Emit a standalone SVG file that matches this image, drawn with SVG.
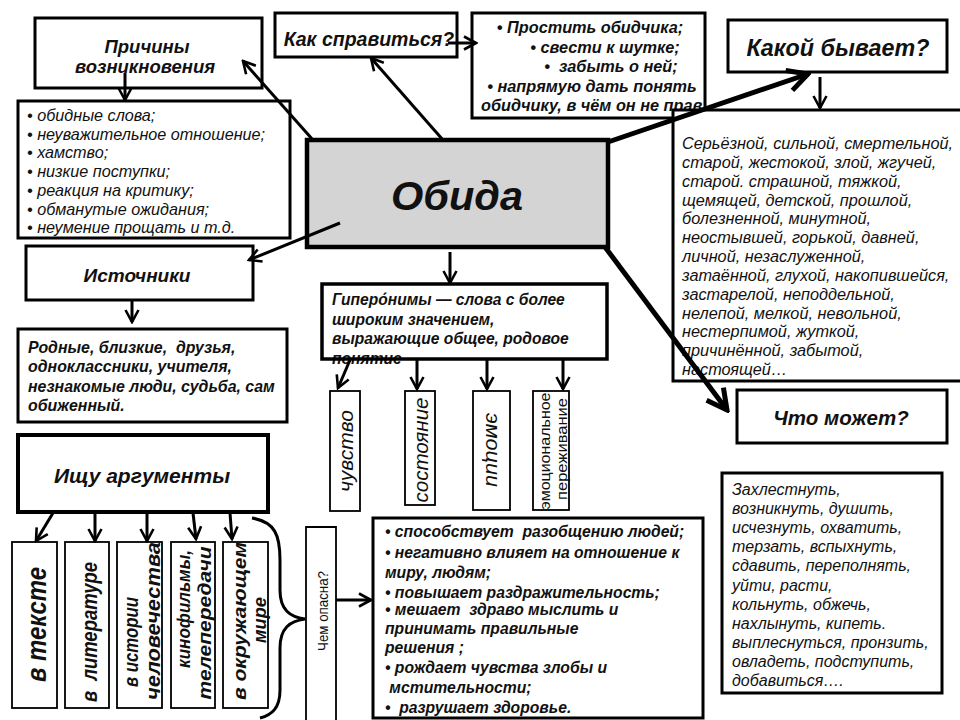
<svg xmlns="http://www.w3.org/2000/svg" width="960" height="720" viewBox="0 0 960 720">
<style>
.b{fill:#fff;stroke:#000;stroke-width:3}
.th{fill:#fff;stroke:#000;stroke-width:1.8}
.t{font-family:"Liberation Sans",Arial,sans-serif;fill:#111}
.bi{font-weight:bold;font-style:italic}
.i{font-style:italic}
.c{stroke:#000;stroke-width:3;fill:none}
.k{stroke:#000;stroke-width:5;fill:none}
</style>
<defs>
<marker id="v" viewBox="0 0 16 16" refX="14" refY="8" markerWidth="16" markerHeight="16" markerUnits="userSpaceOnUse" orient="auto"><path d="M2,1.5 L14,8 L2,14.5" fill="none" stroke="#000" stroke-width="2.6"/></marker>
<marker id="vk" viewBox="0 0 26 26" refX="23" refY="13" markerWidth="26" markerHeight="26" markerUnits="userSpaceOnUse" orient="auto"><path d="M3,2.5 L23,13 L3,23.5" fill="none" stroke="#000" stroke-width="5"/></marker>
<clipPath id="cp"><rect x="472" y="13" width="233" height="105"/></clipPath>
</defs>

<g id="prichiny">
<rect class="b" x="35" y="18" width="227" height="70"/>
<text class="t bi" font-size="18.5" text-anchor="middle"><tspan x="147" y="53">Причины</tspan><tspan x="145" y="73">возникновения</tspan></text>
</g>

<g id="prichiny-list">
<rect class="b" x="18" y="101" width="272" height="137"/>
<text class="t i" font-size="16.2"><tspan x="27" y="121">• обидные слова;</tspan><tspan x="27" y="139.7">• неуважительное отношение;</tspan><tspan x="27" y="158.4">• хамство;</tspan><tspan x="27" y="177.1">• низкие поступки;</tspan><tspan x="27" y="195.8">• реакция на критику;</tspan><tspan x="27" y="214.5">• обманутые ожидания;</tspan><tspan x="27" y="233.2">• неумение прощать и т.д.</tspan></text>
</g>

<g id="kak-spravitsya">
<rect class="b" x="275" y="13" width="182" height="44"/>
<text class="t bi" font-size="19.5" x="369" y="46" text-anchor="middle">Как справиться?</text>
</g>

<g id="prostit">
<rect class="b" x="472" y="13" width="233" height="105"/>
<g clip-path="url(#cp)">
<text class="t bi" font-size="16.3" text-anchor="middle" xml:space="preserve"><tspan x="590" y="33">• Простить обидчика;</tspan><tspan x="605" y="52.5">• свести к шутке;</tspan><tspan x="611" y="72">•  забыть о ней;</tspan><tspan x="592" y="91.5">• напрямую дать понять</tspan></text>
<text class="t bi" font-size="16.3" x="481" y="111">обидчику, в чём он не прав</text>
</g>
</g>

<g id="kakoy-byvaet">
<rect class="b" x="728" y="20" width="219" height="52"/>
<text class="t bi" font-size="23.3" x="838" y="56" text-anchor="middle">Какой бывает?</text>
</g>

<g id="epithets">
<path class="b" d="M965,110 H673 V381 H965"/>
<text class="t i" font-size="16.3"><tspan x="682" y="149">Серьёзной, сильной, смертельной,</tspan><tspan x="682" y="167.8">старой, жестокой, злой, жгучей,</tspan><tspan x="682" y="186.7">старой. страшной, тяжкой,</tspan><tspan x="682" y="205.5">щемящей, детской, прошлой,</tspan><tspan x="682" y="224.3">болезненной, минутной,</tspan><tspan x="682" y="243.2">неостывшей, горькой, давней,</tspan><tspan x="682" y="262">личной, незаслуженной,</tspan><tspan x="682" y="280.8">затаённой, глухой, накопившейся,</tspan><tspan x="682" y="299.7">застарелой, неподдельной,</tspan><tspan x="682" y="318.5">нелепой, мелкой, невольной,</tspan><tspan x="682" y="337.3">нестерпимой, жуткой,</tspan><tspan x="682" y="356.2">причинённой, забытой,</tspan><tspan x="682" y="375">настоящей…</tspan></text>
</g>

<g id="obida">
<rect x="307" y="140" width="301" height="107" fill="#d4d4d4" stroke="#000" stroke-width="4.5"/>
<text class="t bi" font-size="41.5" x="457" y="210" text-anchor="middle">Обида</text>
</g>

<g id="istochniki">
<rect class="b" x="26" y="246" width="227" height="54"/>
<text class="t bi" font-size="19" x="137" y="282" text-anchor="middle">Источники</text>
</g>

<g id="rodnye">
<rect class="b" x="18" y="329" width="269" height="93"/>
<text class="t bi" font-size="15.9" xml:space="preserve"><tspan x="28" y="352.5">Родные, близкие,  друзья,</tspan><tspan x="28" y="372">одноклассники, учителя,</tspan><tspan x="28" y="391.5">незнакомые люди, судьба, сам</tspan><tspan x="28" y="411">обиженный.</tspan></text>
</g>

<g id="giperonimy">
<text class="t bi" font-size="15.6"><tspan x="332" y="305">Гиперо&#769;нимы — слова с более</tspan><tspan x="332" y="324.5">широким значением,</tspan><tspan x="332" y="344">выражающие общее, родовое</tspan><tspan x="332" y="363.5">понятие</tspan></text>
<rect x="322" y="284" width="285" height="75" fill="none" stroke="#000" stroke-width="3.5"/>
</g>

<g id="chuvstvo">
<rect class="th" x="330" y="391" width="30" height="120"/>
<text class="t i" font-size="20" transform="translate(353,451) rotate(-90)" text-anchor="middle" textLength="82" lengthAdjust="spacingAndGlyphs">чувство</text>
</g>
<g id="sostoyanie">
<rect class="th" x="405" y="391" width="30" height="114"/>
<text class="t i" font-size="20" transform="translate(428,450) rotate(-90)" text-anchor="middle" textLength="105" lengthAdjust="spacingAndGlyphs">состояние</text>
</g>
<g id="emotsii">
<rect class="th" x="473" y="391" width="37" height="119"/>
<text class="t i" font-size="20" transform="translate(486,450) rotate(90)" text-anchor="middle" textLength="74" lengthAdjust="spacingAndGlyphs">эмоции</text>
</g>
<g id="perezhivanie">
<rect class="th" x="533" y="391" width="36" height="119"/>
<text class="t" font-size="15" transform="translate(550,451) rotate(-90)" text-anchor="middle" textLength="117" lengthAdjust="spacingAndGlyphs">эмоциональное</text>
<text class="t" font-size="15" transform="translate(567,449) rotate(-90)" text-anchor="middle" textLength="102" lengthAdjust="spacingAndGlyphs">переживание</text>
</g>

<g id="ishchu">
<rect x="18" y="435" width="250" height="77" fill="#fff" stroke="#000" stroke-width="4"/>
<text class="t bi" font-size="21" x="142" y="483" text-anchor="middle">Ищу аргументы</text>
</g>

<g id="v-tekste">
<rect class="th" x="12" y="542" width="45" height="166"/>
<text class="t bi" font-size="28" transform="translate(46,624.5) rotate(-90)" text-anchor="middle" textLength="115" lengthAdjust="spacingAndGlyphs">в тексте</text>
</g>
<g id="v-literature">
<rect class="th" x="65" y="542" width="44" height="166"/>
<text class="t bi" font-size="22" transform="translate(97,632) rotate(-90)" text-anchor="middle" textLength="140" lengthAdjust="spacingAndGlyphs" xml:space="preserve">в  литературе</text>
</g>
<g id="v-istorii">
<rect class="th" x="117" y="542" width="45" height="166"/>
<text class="t bi" font-size="20" transform="translate(138,642) rotate(-90)" text-anchor="middle" textLength="90" lengthAdjust="spacingAndGlyphs">в истории</text>
<text class="t bi" font-size="20" transform="translate(160,621) rotate(-90)" text-anchor="middle" textLength="158" lengthAdjust="spacingAndGlyphs">человечества</text>
</g>
<g id="kinofilmy">
<rect class="th" x="171" y="542" width="44" height="166"/>
<text class="t bi" font-size="18" transform="translate(190,609) rotate(-90)" text-anchor="middle" textLength="118" lengthAdjust="spacingAndGlyphs">кинофильмы,</text>
<text class="t bi" font-size="18" transform="translate(211,623) rotate(-90)" text-anchor="middle" textLength="153" lengthAdjust="spacingAndGlyphs">телепередачи</text>
</g>
<g id="v-okruzhayushchem">
<rect class="th" x="223" y="542" width="45" height="166"/>
<text class="t bi" font-size="19" transform="translate(246,621) rotate(-90)" text-anchor="middle" textLength="158" lengthAdjust="spacingAndGlyphs">в окружающем</text>
<text class="t bi" font-size="19" transform="translate(266,620) rotate(-90)" text-anchor="middle" textLength="46" lengthAdjust="spacingAndGlyphs">мире</text>
</g>

<g id="chem-opasna">
<path class="th" d="M306,725 V527 H336 V725"/>
<text class="t" font-size="14.5" transform="translate(328,611) rotate(-90)" text-anchor="middle" textLength="80" lengthAdjust="spacingAndGlyphs">Чем опасна?</text>
</g>

<g id="opasnost">
<rect class="b" x="373" y="518" width="330" height="200"/>
<text class="t bi" font-size="15.7" xml:space="preserve"><tspan x="385" y="537">• способствует  разобщению людей;</tspan><tspan x="385" y="557.5">• негативно влияет на отношение к</tspan><tspan x="385" y="577.5">миру, людям;</tspan><tspan x="385" y="597.5">• повышает раздражительность;</tspan><tspan x="385" y="615">• мешает  здраво мыслить и</tspan><tspan x="385" y="634">принимать правильные</tspan><tspan x="385" y="653">решения ;</tspan><tspan x="385" y="673">• рождает чувства злобы и</tspan><tspan x="385" y="693"> мстительности;</tspan><tspan x="385" y="713">•  разрушает здоровье.</tspan></text>
</g>

<g id="chto-mozhet">
<rect class="b" x="737" y="390" width="210" height="53"/>
<text class="t bi" font-size="20.5" x="841" y="425" text-anchor="middle">Что может?</text>
</g>

<g id="glagoly">
<rect class="b" x="722" y="473" width="220" height="220"/>
<text class="t i" font-size="16"><tspan x="732" y="495">Захлестнуть,</tspan><tspan x="732" y="514.1">возникнуть, душить,</tspan><tspan x="732" y="533.2">исчезнуть, охватить,</tspan><tspan x="732" y="552.3">терзать, вспыхнуть,</tspan><tspan x="732" y="571.4">сдавить, переполнять,</tspan><tspan x="732" y="590.5">уйти, расти,</tspan><tspan x="732" y="609.6">кольнуть, обжечь,</tspan><tspan x="732" y="628.7">нахлынуть, кипеть.</tspan><tspan x="732" y="647.8">выплеснуться, пронзить,</tspan><tspan x="732" y="666.9">овладеть, подступить,</tspan><tspan x="732" y="686">добавиться….</tspan></text>
</g>

<g id="connectors">
<line class="c" x1="313" y1="140" x2="243" y2="61" marker-end="url(#v)"/>
<line class="c" x1="443" y1="140" x2="371" y2="58" marker-end="url(#v)"/>
<line class="k" x1="608" y1="142" x2="808" y2="74" marker-end="url(#vk)"/>
<line class="c" x1="340" y1="223" x2="249" y2="260" marker-end="url(#v)"/>
<line class="c" x1="450" y1="252" x2="450" y2="283" marker-end="url(#v)"/>
<line class="k" x1="605" y1="247" x2="727" y2="410" marker-end="url(#vk)"/>
<line class="c" x1="125" y1="73" x2="125" y2="100" marker-end="url(#v)"/>
<line class="c" stroke-width="4" x1="448" y1="43" x2="476" y2="43" marker-end="url(#v)"/>
<line class="c" x1="820" y1="77" x2="820" y2="108" marker-end="url(#v)"/>
<line class="c" x1="132" y1="300" x2="132" y2="322" marker-end="url(#v)"/>
<line class="c" x1="350" y1="360" x2="338" y2="388" marker-end="url(#v)"/>
<line class="c" x1="417" y1="360" x2="417" y2="389" marker-end="url(#v)"/>
<line class="c" x1="487" y1="360" x2="487" y2="389" marker-end="url(#v)"/>
<line class="c" x1="563" y1="360" x2="563" y2="389" marker-end="url(#v)"/>
<line class="c" x1="53" y1="513" x2="36" y2="541" marker-end="url(#v)"/>
<line class="c" x1="95" y1="513" x2="95" y2="541" marker-end="url(#v)"/>
<line class="c" x1="147" y1="513" x2="147" y2="541" marker-end="url(#v)"/>
<line class="c" x1="193" y1="513" x2="196" y2="539" marker-end="url(#v)"/>
<line class="c" x1="230" y1="513" x2="232" y2="539" marker-end="url(#v)"/>
<line class="c" stroke-width="4.5" x1="336" y1="600" x2="371" y2="600" marker-end="url(#v)"/>
<path class="c" stroke-width="2.5" d="M252,518 C275,522 280,535 280,560 L280,590 C280,610 290,617 305,619 C290,621 280,628 280,648 L280,690 C280,708 272,715 260,718"/>
</g>
</svg>
